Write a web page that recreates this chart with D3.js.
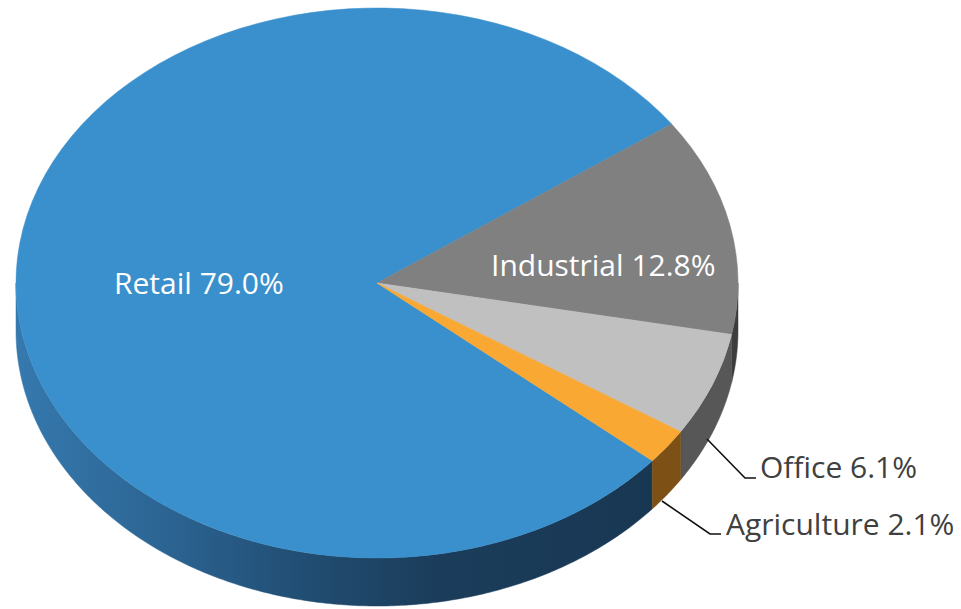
<!DOCTYPE html>
<html>
<head>
<meta charset="utf-8">
<script src="https://cdn.jsdelivr.net/npm/d3@7"></script>
<style>
  html, body { margin: 0; padding: 0; background: #ffffff; }
  svg { display: block; }
  text { font-family: "Open Sans", "Noto Sans", sans-serif; }
</style>
</head>
<body>
<svg id="chart" width="961" height="609"></svg>
<script>
// Share of floor space by property type (%)
const categories = ["Retail", "Industrial", "Office", "Agriculture"];
const shares = [79.0, 12.8, 6.1, 2.1];

// Top face and wall colours per category
const topColors  = ["#3a90cc", "#808080", "#c0c0c0", "#f9a833"];
const sideColors = ["url(#retailSide)", "#3d3d3d", "#575757", "#7d5116"];

// Disc geometry
const cx = 377, cy = 283, rx = 361, ry = 275, depth = 48;
const startDeg = 130.3;

// Label placement: inside labels are white, outside labels get a leader line
const labelLayout = {
  Retail:      { x: 114, y: 294, inside: true },
  Industrial:  { x: 491, y: 276, inside: true },
  Office:      { x: 760, y: 478, inside: false, elbow: [745, 478], end: [756, 478], start: [707, 439] },
  Agriculture: { x: 726, y: 535, inside: false, elbow: [710, 534], end: [721, 534], start: [662, 501] }
};

const svg = d3.select("#chart");
const defs = svg.append("defs");
const grad = defs.append("linearGradient")
  .attr("id", "retailSide")
  .attr("gradientUnits", "userSpaceOnUse")
  .attr("x1", cx - rx).attr("y1", 0)
  .attr("x2", cx + rx).attr("y2", 0);
[[0, "#3679ae"], [0.2, "#2c6594"], [0.4, "#214d72"], [0.58, "#1b3d5b"], [1, "#173550"]]
  .forEach(([o, c]) => grad.append("stop").attr("offset", o).attr("stop-color", c));

const rows = categories.map((c, i) => ({ name: c, value: shares[i], i }));

const pie = d3.pie()
  .sort(null)
  .value(d => d.value)
  .startAngle(startDeg * Math.PI / 180)
  .endAngle(startDeg * Math.PI / 180 + 2 * Math.PI);

const arcs = pie(rows);

// Point on the ellipse for a d3 angle (clockwise from 12 o'clock)
const px = a => cx + rx * Math.sin(a);
const py = a => cy - ry * Math.cos(a);

// Front walls: only the part of each slice whose rim faces the viewer
const wallLine = d3.line();
const wallPath = (a0, a1) => {
  const n = Math.max(2, Math.ceil((a1 - a0) / 0.01));
  const angles = d3.range(n + 1).map(k => a0 + (a1 - a0) * k / n);
  const top = angles.map(a => [px(a), py(a)]);
  const bottom = angles.slice().reverse().map(a => [px(a), py(a) + depth]);
  return wallLine(top.concat(bottom)) + "Z";
};

const walls = svg.append("g");
arcs.forEach(d => {
  // visible rim runs from PI/2 to 3PI/2 (and the same shifted by 2PI)
  [0, 2 * Math.PI].forEach(shift => {
    const a0 = Math.max(d.startAngle, Math.PI / 2 + shift);
    const a1 = Math.min(d.endAngle, 3 * Math.PI / 2 + shift);
    if (a1 > a0) {
      walls.append("path")
        .attr("d", wallPath(a0, a1))
        .attr("fill", sideColors[d.data.i])
        .attr("stroke", sideColors[d.data.i])
        .attr("stroke-width", 0.5);
    }
  });
});

// Top face: circular arcs squashed into an ellipse
const arc = d3.arc().innerRadius(0).outerRadius(rx);
svg.append("g")
  .attr("transform", `translate(${cx},${cy}) scale(1,${ry / rx})`)
  .selectAll("path")
  .data(arcs)
  .join("path")
  .attr("d", arc)
  .attr("fill", d => topColors[d.data.i])
  .attr("stroke", d => topColors[d.data.i])
  .attr("stroke-width", 0.6);

// Labels
const labels = svg.append("g");
arcs.forEach(d => {
  const L = labelLayout[d.data.name];
  const txt = `${d.data.name} ${d3.format(".1f")(d.data.value)}%`;
  if (!L.inside) {
    labels.append("polyline")
      .attr("points", [L.start, L.elbow, L.end].map(p => p.join(",")).join(" "))
      .attr("fill", "none")
      .attr("stroke", "#111111")
      .attr("stroke-width", 1.6);
  }
  labels.append("text")
    .attr("x", L.x)
    .attr("y", L.y)
    .attr("font-size", 30)
    .attr("fill", L.inside ? "#ffffff" : "#404040")
    .text(txt);
});
</script>
</body>
</html>
